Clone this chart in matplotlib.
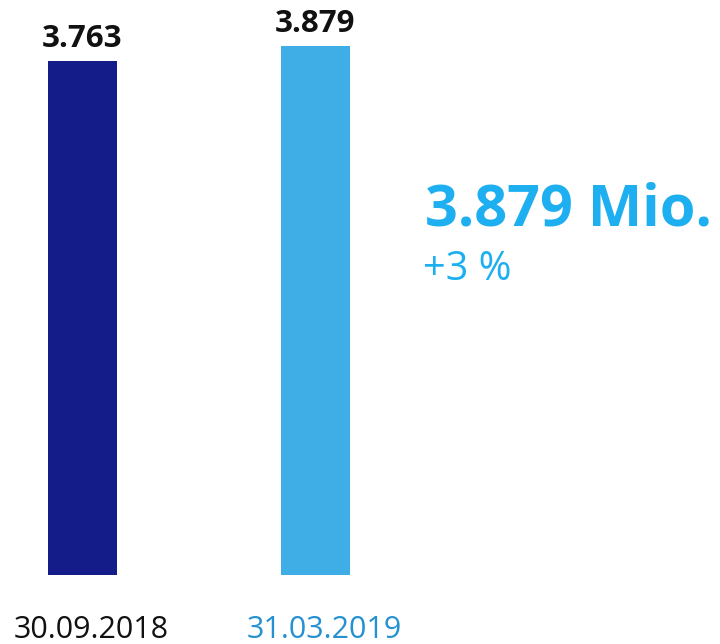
import matplotlib
matplotlib.use("Agg")
from matplotlib import pyplot as plt

# data
dates = ["30.09.2018", "31.03.2019"]
values = [3763, 3879]
value_labels = ["3.763", "3.879"]
headline = "3.879 Mio."
change = "+3 %"

bar_colors = ["#141c89", "#40aee6"]
date_colors = ["#111111", "#2591d0"]
accent = "#1eaff0"

plt.rcParams['font.family'] = ['Open Sans', 'DejaVu Sans']

W, H = 720, 644
fig = plt.figure(figsize=(W / 100, H / 100), dpi=100)
ax = fig.add_axes([0, 0, 1, 1])
ax.axis("off")

x = range(len(values))
ax.bar(x, values, width=69 / 233, color=bar_colors)

# map pixels: bar centres at 82.5 and 315.5 px, baseline at 575 px from top
px_per_unit = 0.1365
ax.set_xlim(-82.5 / 233, -82.5 / 233 + W / 233)
ax.set_ylim(-69 / px_per_unit, (H - 69) / px_per_unit)

for i, v in enumerate(values):
    ax.annotate(value_labels[i], (i, v), xytext=(0, 10), textcoords="offset points",
                ha="center", va="baseline", fontsize=22.5, fontweight="bold",
                color="#111111")
    ax.annotate(dates[i], (i, 0), xytext=(6, -45.5), textcoords="offset points",
                ha="center", va="baseline", fontsize=22, color=date_colors[i])

fig.text(425 / W, 1 - 225 / H, headline, fontsize=41.5, fontweight="bold",
         color=accent, ha="left", va="baseline")
fig.text(423 / W, 1 - 280 / H, change, fontsize=28.5, color=accent,
         ha="left", va="baseline")

fig.savefig("out.png", dpi=100)
